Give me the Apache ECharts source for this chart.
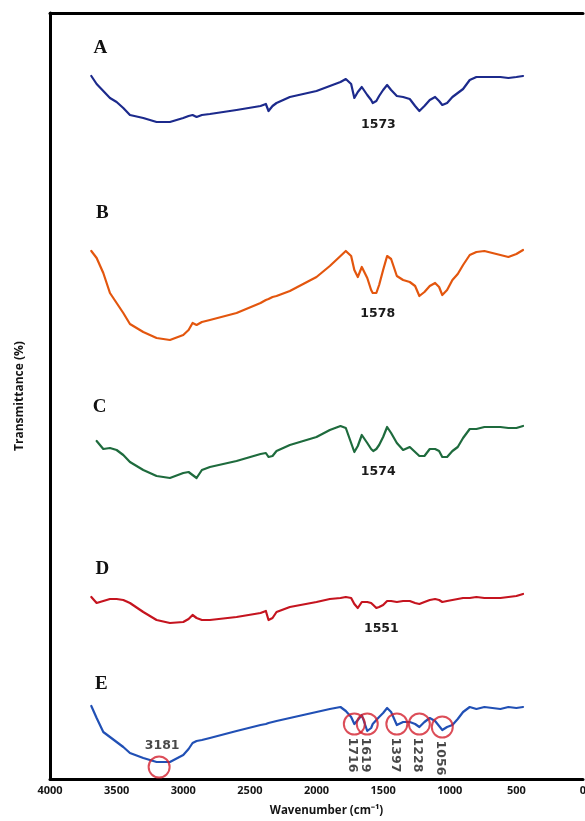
<!DOCTYPE html>
<html>
<head>
<meta charset="utf-8">
<script src="https://cdn.jsdelivr.net/npm/echarts@6/dist/echarts.min.js"></script>
<style>
  html, body { margin: 0; padding: 0; background: #ffffff; }
  #chart { width: 585px; height: 821px; }
</style>
</head>
<body>
<div id="chart"></div>
<script>
// FTIR spectra A–E, stacked with vertical offsets (arbitrary transmittance units)
const wavenumbers = [3690,3650,3600,3550,3500,3450,3400,3300,3200,3100,3000,2960,2930,2900,2860,2800,2600,2420,2380,2360,2330,2300,2200,2000,1900,1820,1780,1740,1716,1690,1660,1619,1590,1578,1574,1573,1551,1530,1500,1470,1440,1397,1350,1300,1260,1228,1190,1150,1110,1080,1056,1020,980,940,900,850,800,740,680,620,560,500,450];

const spectrumA = [351.5,347.5,344,340.5,338.5,335.5,332, 330.5,328.5,328.5,330.5, 331.5,332,331,332,332.5, 334.5,336.5,337.5,334,336.5,338, 341,344,346.5,348.5,350,347.5, 340.5,343.5,346,342,339.5, 338,337.5,337.5,339,341.5, 344.5,347,344.5,341.5, 341,340,336.5,334, 336.5,339.5,341,339,337, 338,341,343,345,349.5, 351,351,351,351,350.5,351,351.5];

const spectrumB = [264,260.5,253,243,238,233,227.5, 223.5,220.5,219.5,222, 224.5,228,227,228.5,229.5, 233,238,239.5,240,241,241.5, 244,251,256.5,261.5,264,261.5, 254.5,251,256,250.5,244.5, 243,243,243,243,247, 254.5,261.5,260,251.5, 249.5,248.5,246.5,241.5, 243.5,246.5,248,246,242, 244.5,249.5,252.5,257,262, 263.5,264,263,262,261,262.5,264.5];

const spectrumC = [null,169,165,165.5,164.5,162,158.5, 154.5,151.5,150.5,153, 153.5,152,150.5,154.5,156, 159,162.5,163,161,161.5,164, 167,171,174.5,176.5,175.5,168, 163.5,166.5,172,168,165, 164.5,164,164,165,167, 171,176,173,168, 164.5,166,163.5,161.5, 161.5,165,165,164,161, 161,164,166,170.5,175, 175,176,176,176,175.5,175.5,176.5];

const spectrumD = [91,88,89,90,90,89.5,88, 83.5,79.5,78,78.5, 80,82,80.5,79.5,79.5, 81,83,84,79.5,80.5,83.5, 86,88.5,90,90.5,91,90.5, 87.5,85.5,88.5,88.5,88, 87.5,87,87,85.5,86, 87,89,89,88.5, 89,89,88,87.5, 88.5,89.5,90,89.5,88.5, 89,89.5,90,90.5,90.5, 91,90.5,90.5,90.5,91,91.5,92.5];

const spectrumE = [36.5,30.5,23.5,21,18.5,16,13, 10.5,8.5,8.5,12, 15,18,19,19.5,20.5, 24,27,27.5,28,28.5,29, 30.5,33.5,35,36,34,31, 27.5,29.5,32,24,25.5, 27.5,28,28.5,29.5,31, 33,35.5,33.5,27, 28.5,28.5,27.5,26, 28.5,30.5,29,26.5,24.5, 26,27,30,33.5,36, 35,36,35.5,35,36,35.5,36];

const spectrumNames = ['A', 'B', 'C', 'D', 'E'];
const spectrumColors = ['#1c2a8c', '#e3560e', '#1e6b3d', '#c5141f', '#2150b5'];
const labelledPeaks = [1573, 1578, 1574, 1551, null];

// Marked bands of spectrum E
const markedBands = [3181, 1716, 1619, 1397, 1228, 1056];
const markedLevels = [6, 27.5, 27.5, 27.5, 27.5, 26];

const xTicks = [0, 500, 1000, 1500, 2000, 2500, 3000, 3500, 4000];

const allSpectra = [spectrumA, spectrumB, spectrumC, spectrumD, spectrumE];

// offsets (px) of the panel letters from each trace's first point
const letterOffsets = [[9, -28], [11, -38], [3, -34], [11, -28], [10, -22]];

const axisFont = 'Open Sans';
const chart = echarts.init(document.getElementById('chart'), null, { renderer: 'canvas' });

const lineSeries = allSpectra.map((vals, k) => {
  const first = vals.findIndex(v => v !== null);
  const markData = [{
    coord: [wavenumbers[first], vals[first]],
    label: {
      formatter: spectrumNames[k],
      offset: letterOffsets[k],
      fontFamily: 'Liberation Serif',
      fontWeight: 'bold',
      fontSize: 19,
      color: '#111'
    }
  }];
  const pk = labelledPeaks[k];
  if (pk !== null) {
    const idx = wavenumbers.indexOf(pk);
    markData.push({
      coord: [pk, vals[idx]],
      label: {
        formatter: String(pk),
        offset: [5, 21],
        fontFamily: 'DejaVu Sans',
        fontWeight: 'bold',
        fontSize: 12.5,
        color: '#1a1a1a'
      }
    });
  }
  return {
    name: spectrumNames[k],
    type: 'line',
    data: wavenumbers.map((w, i) => [w, vals[i]]),
    showSymbol: false,
    connectNulls: false,
    smooth: false,
    lineStyle: { color: spectrumColors[k], width: 2.2, join: 'round', cap: 'round' },
    itemStyle: { color: spectrumColors[k] },
    z: 3,
    markPoint: {
      symbol: 'circle',
      symbolSize: 1,
      silent: true,
      itemStyle: { color: 'rgba(0,0,0,0)' },
      label: { show: true, position: 'inside' },
      data: markData
    }
  };
});

// label offsets are given in the label's own (rotated) frame
const circleSeries = {
  type: 'scatter',
  symbol: 'circle',
  symbolSize: 21,
  z: 5,
  silent: true,
  itemStyle: { color: 'rgba(0,0,0,0)', borderColor: '#d3202e', borderWidth: 2 },
  data: markedBands.map((w, i) => ({
    value: [w, markedLevels[i]],
    label: i === 0
      ? { show: true, formatter: String(w), position: 'inside', offset: [3, -21], rotate: 0 }
      : { show: true, formatter: String(w), position: 'inside', offset: [31, 2], rotate: -90 }
  })),
  label: {
    fontFamily: 'DejaVu Sans',
    fontWeight: 'bold',
    fontSize: 12.5,
    color: '#1a1a1a'
  }
};

const axisLineStyle = { color: '#000', width: 3 };

chart.setOption({
  animation: false,
  backgroundColor: '#ffffff',
  grid: { left: 50, right: 2, top: 13, bottom: 42, containLabel: false, outerBoundsMode: 'none' },
  xAxis: [{
    type: 'value',
    min: xTicks[0],
    max: xTicks[xTicks.length - 1],
    interval: 500,
    inverse: true,
    axisLine: { show: true, onZero: false, lineStyle: axisLineStyle },
    axisTick: { show: false },
    splitLine: { show: false },
    axisLabel: {
      margin: 6, fontFamily: axisFont, fontWeight: 'bold', fontSize: 11, color: '#151515',
      formatter: v => String(v)
    },
    name: 'Wavenumber (cm\u207B\u00B9)',
    nameLocation: 'middle',
    nameGap: 26,
    nameTextStyle: { fontFamily: axisFont, fontWeight: 'bold', fontSize: 11.5, color: '#151515', padding: [0, 0, 0, 20] }
  }, {
    type: 'value',
    position: 'top',
    min: 0,
    max: 4000,
    inverse: true,
    axisLine: { show: true, onZero: false, lineStyle: axisLineStyle },
    axisTick: { show: false },
    axisLabel: { show: false },
    splitLine: { show: false }
  }],
  yAxis: {
    type: 'value',
    min: 0,
    max: 383,
    axisLine: { show: true, onZero: false, lineStyle: axisLineStyle },
    axisTick: { show: false },
    axisLabel: { show: false },
    splitLine: { show: false },
    name: 'Transmittance (%)',
    nameLocation: 'middle',
    nameRotate: 90,
    nameGap: 24,
    nameTextStyle: { fontFamily: axisFont, fontWeight: 'bold', fontSize: 12, color: '#151515' }
  },
  series: [...lineSeries, circleSeries]
});
</script>
</body>
</html>
